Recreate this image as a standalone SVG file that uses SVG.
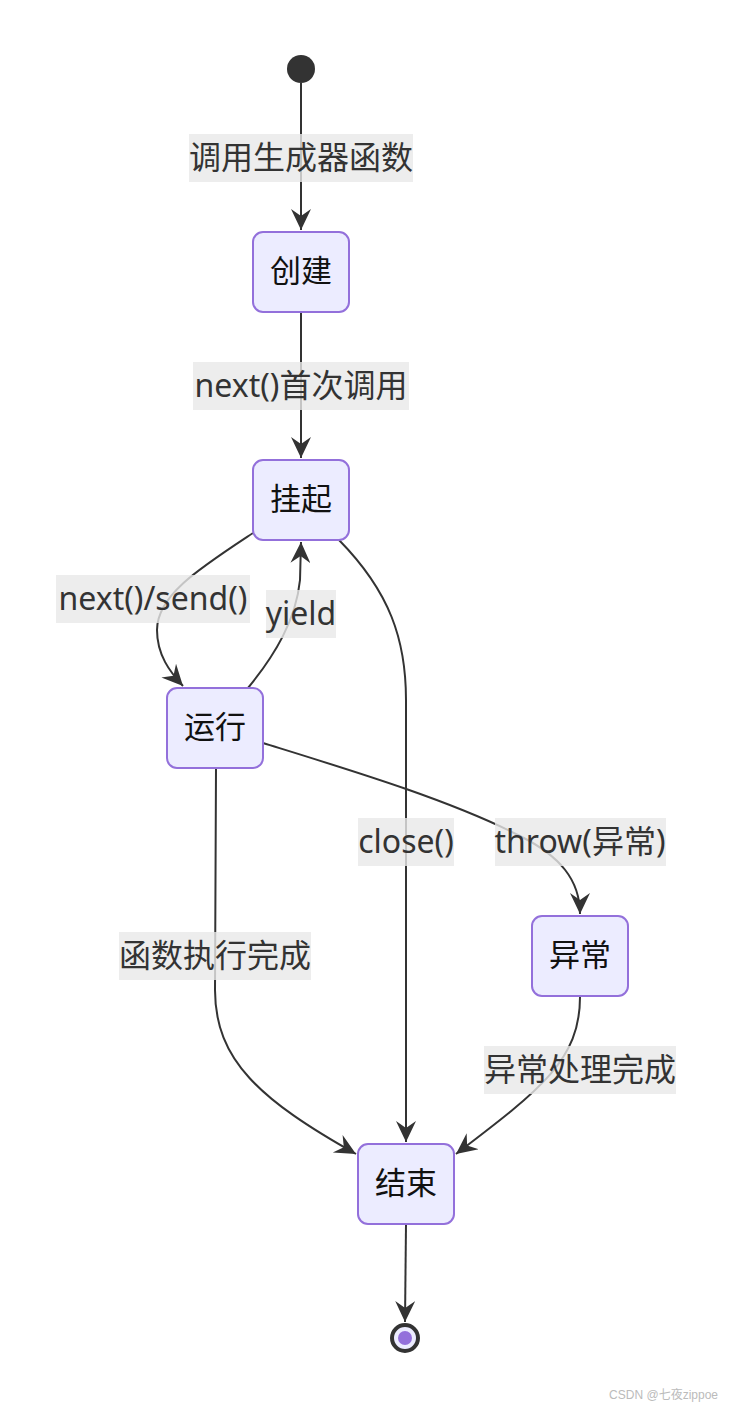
<svg xmlns="http://www.w3.org/2000/svg" width="732" height="1408" viewBox="0 0 732 1408">
<style>
.node rect{fill:#ECECFF;stroke:#9370DB;stroke-width:2}
.node text{font-family:"Noto Sans","Noto Sans CJK SC",sans-serif;font-size:31px;fill:#111;text-anchor:middle;dominant-baseline:central}
.edge{fill:none;stroke:#333;stroke-width:2}
.lbl rect{fill:#e8e8e8;fill-opacity:0.8}
.lbl text{font-family:"Noto Sans","Noto Sans CJK SC",sans-serif;font-size:32px;fill:#333;text-anchor:middle;dominant-baseline:central}
.wm{font-family:"Liberation Sans","Noto Sans CJK SC",sans-serif;font-size:12px;fill:#bbb;text-anchor:end}
</style>
<defs>
<marker id="arr" markerUnits="userSpaceOnUse" markerWidth="24" markerHeight="20" refX="22" refY="10" orient="auto">
<path d="M22,10 L1,20 L8,10 L1,0 Z" fill="#333"/>
</marker>
</defs>
<rect width="732" height="1408" fill="#fff"/>
<g id="connectors">
<path class="edge" d="M301,83 L301,230" marker-end="url(#arr)"/>
<path class="edge" d="M301,312 L301,458" marker-end="url(#arr)"/>
<path class="edge" d="M253,533 C200,568 157,595 157,630 C157,655 170,672 183,686" marker-end="url(#arr)"/>
<path class="edge" d="M248,688 C275,655 296,620 300,580 L301,542" marker-end="url(#arr)"/>
<path class="edge" d="M339,540 C390,592 406,640 406,700 L406,1142" marker-end="url(#arr)"/>
<path class="edge" d="M263,743 C350,770 450,800 520,836 C560,856 580,880 580,914" marker-end="url(#arr)"/>
<path class="edge" d="M216,768 L215,990 C215,1060 260,1100 356,1154" marker-end="url(#arr)"/>
<path class="edge" d="M580,997 C580,1060 540,1090 456,1154" marker-end="url(#arr)"/>
<path class="edge" d="M406,1224 L405,1322" marker-end="url(#arr)"/>
</g>
<g id="edge-labels">
<g class="lbl"><rect x="189" y="134" width="224" height="48"/><text x="301" y="156">调用生成器函数</text></g>
<g class="lbl"><rect x="193" y="362" width="216" height="48"/><text x="301" y="384">next()首次调用</text></g>
<g class="lbl"><rect x="56" y="575" width="194" height="48"/><text x="153" y="597">next()/send()</text></g>
<g class="lbl"><rect x="266" y="590" width="70" height="48"/><text x="301" y="612">yield</text></g>
<g class="lbl"><rect x="358" y="818" width="96" height="48"/><text x="406" y="840">close()</text></g>
<g class="lbl"><rect x="495" y="818" width="171" height="48"/><text x="580" y="840">throw(异常)</text></g>
<g class="lbl"><rect x="119" y="932" width="192" height="48"/><text x="215" y="954">函数执行完成</text></g>
<g class="lbl"><rect x="484" y="1046" width="192" height="48"/><text x="580" y="1068">异常处理完成</text></g>
</g>
<g id="start"><circle cx="301" cy="69" r="14" fill="#333"/></g>
<g id="node-create" class="node"><rect x="253" y="232" width="96" height="80" rx="10"/><text x="301" y="270">创建</text></g>
<g id="node-suspended" class="node"><rect x="253" y="460" width="96" height="80" rx="10"/><text x="301" y="498">挂起</text></g>
<g id="node-running" class="node"><rect x="167" y="688" width="96" height="80" rx="10"/><text x="215" y="726">运行</text></g>
<g id="node-exception" class="node"><rect x="532" y="916" width="96" height="80" rx="10"/><text x="580" y="954">异常</text></g>
<g id="node-end" class="node"><rect x="358" y="1144" width="96" height="80" rx="10"/><text x="406" y="1182">结束</text></g>
<g id="end"><circle cx="405" cy="1338" r="13" fill="#ECECFF" stroke="#333" stroke-width="4"/><circle cx="405" cy="1338" r="7" fill="#9370DB"/></g>
<text class="wm" x="718" y="1399">CSDN @七夜zippoe</text>
</svg>
